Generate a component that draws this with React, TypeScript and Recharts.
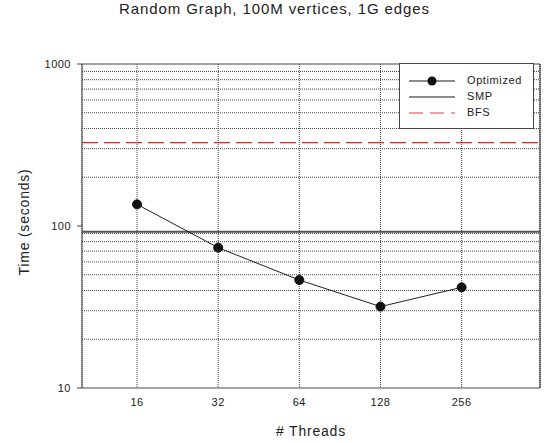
import React from 'react';
import {
  LineChart,
  Line,
  XAxis,
  YAxis,
  CartesianGrid,
  ReferenceLine,
} from 'recharts';

const threads = [16, 32, 64, 128, 256];
const optimizedTimes = [136, 73.5, 46.4, 31.8, 41.8];
const smpTime = 92;
const bfsTime = 327;
const yTicks = [10, 100, 1000];
const minorGrid = [20, 30, 40, 50, 60, 70, 80, 90, 200, 300, 400, 500, 600, 700, 800, 900];

const data = threads.map((t, i) => ({ threads: t, optimized: optimizedTimes[i] }));

const font = "'Liberation Sans', Arial, sans-serif";
const tickStyle = { fill: '#222', fontSize: 11, fontFamily: font, letterSpacing: 0.5 };

function LegendBox() {
  const row = (y: number) => ({ position: 'absolute' as const, left: 67, top: y, whiteSpace: 'nowrap' as const });
  return (
    <div
      style={{
        position: 'absolute',
        left: 399,
        top: 63,
        width: 133,
        height: 64,
        background: '#fff',
        border: '1px solid #444',
        fontFamily: font,
        fontSize: 11,
        letterSpacing: 0.6,
        color: '#222',
      }}
    >
      <svg width={133} height={64} style={{ position: 'absolute', left: 0, top: 0 }}>
        <line x1={9} x2={55} y1={17} y2={17} stroke='#666' strokeWidth={1.5} />
        <circle cx={32} cy={17} r={4.5} fill='#111' />
        <line x1={9} x2={55} y1={33} y2={33} stroke='#666' strokeWidth={1.5} />
        <line x1={9} x2={55} y1={49} y2={49} stroke='#f08080' strokeWidth={1.5} strokeDasharray='14 7' />
      </svg>
      <div style={row(10)}>Optimized</div>
      <div style={row(26)}>SMP</div>
      <div style={row(42)}>BFS</div>
    </div>
  );
}

export default function App() {
  return (
    <div style={{ position: 'absolute', left: 0, top: 0, width: 549, height: 443, background: '#fff' }}>
      <div
        style={{
          position: 'absolute',
          left: 0,
          width: 549,
          top: 0,
          textAlign: 'center',
          fontFamily: font,
          fontSize: 15,
          letterSpacing: 0.9,
          color: '#222',
        }}
      >
        Random Graph, 100M vertices, 1G edges
      </div>
      <LineChart
        width={549}
        height={443}
        data={data}
        margin={{ top: 64, right: 9, bottom: 25, left: 42 }}
      >
        <CartesianGrid horizontal={false} stroke='#444' strokeDasharray='1 1' />
        {minorGrid.map((v) => (
          <ReferenceLine key={v} y={v} stroke='#444' strokeDasharray='1 1' />
        ))}
        <XAxis
          dataKey='threads'
          type='number'
          scale='log'
          domain={[10, 500]}
          ticks={threads}
          tickLine={false}
          tickSize={0}
          tickMargin={10}
          height={30}
          stroke='#444'
          tick={tickStyle}
          allowDataOverflow
        />
        <YAxis
          scale='log'
          domain={[10, 1000]}
          ticks={yTicks}
          width={40}
          tickSize={5}
          tickMargin={6}
          stroke='#444'
          tick={tickStyle}
          allowDataOverflow
        />
        <ReferenceLine y={1000} stroke='#444' />
        <ReferenceLine x={500} stroke='#222' />
        <ReferenceLine y={smpTime} stroke='#555' strokeWidth={2} />
        <ReferenceLine y={bfsTime} stroke='#e82020' strokeWidth={1.2} strokeDasharray='16 6' />
        <Line
          dataKey='optimized'
          stroke='#222'
          strokeWidth={1}
          dot={{ r: 4.5, fill: '#111', stroke: '#111', strokeWidth: 1 }}
          isAnimationActive={false}
        />
      </LineChart>
      <LegendBox />
      <div
        style={{
          position: 'absolute',
          left: 24,
          top: 222,
          transform: 'translate(-50%, -50%) rotate(-90deg)',
          whiteSpace: 'nowrap',
          fontFamily: font,
          fontSize: 14,
          letterSpacing: 0.8,
          color: '#222',
        }}
      >
        Time (seconds)
      </div>
      <div
        style={{
          position: 'absolute',
          left: 311,
          top: 431,
          transform: 'translate(-50%, -50%)',
          whiteSpace: 'nowrap',
          fontFamily: font,
          fontSize: 14,
          letterSpacing: 0.8,
          color: '#222',
        }}
      >
        # Threads
      </div>
    </div>
  );
}
